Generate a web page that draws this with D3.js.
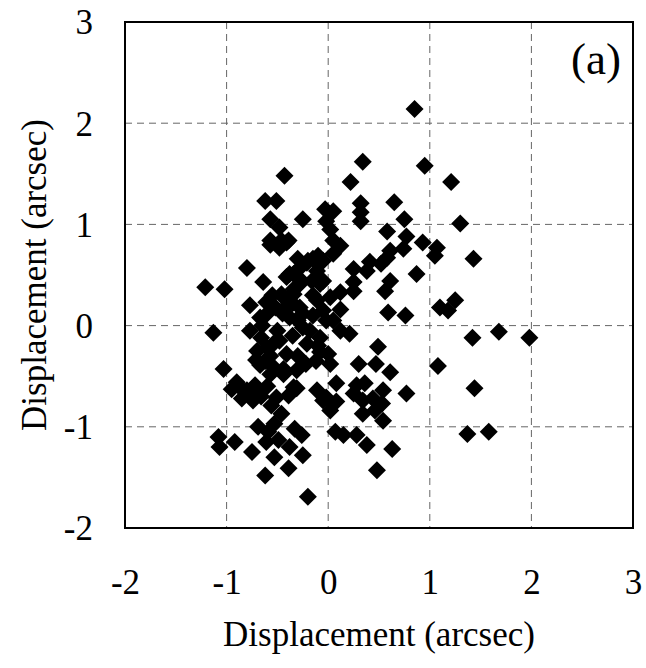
<!DOCTYPE html>
<html>
<head>
<meta charset="utf-8">
<script src="https://cdn.jsdelivr.net/npm/d3@7"></script>
<style>
  body { margin: 0; background: #fff; }
  text { font-family: "Liberation Serif", "Times New Roman", serif; fill: #000; }
</style>
</head>
<body>
<svg width="646" height="668"></svg>
<script>
// displacement values (arcsec)
const dispX = [
  0.85, 0.34, 0.95, 0.22, 1.21, -0.43, 0.65, 0.32, 0.32, 0.32,
  0.75, 1.30, -0.62, -0.51, -0.57, -0.25, -0.48, -0.57, -0.41, -0.03,
  0.05, -0.02, 0.02, 0.05, 0.58, 0.77, 0.93, 1.07, 1.05, 0.61,
  0.74, 0.12, 0.58, 0.41, 0.52, 0.25, 0.38, 0.87, 0.05, -0.05,
  -0.15, -0.21, -0.28, -0.34, -0.11, -0.05, -0.16, -0.28, 0.61, 0.25,
  -0.34, -0.48, -0.39, -0.57, -0.38, -0.20, -0.10, 0.56, 0.12, 0.25,
  0.59, 0.76, 1.10, 1.18, 1.25, 0.12, 0.05, 0.21, 0.12, 0.49,
  0.02, 0.30, 0.47, 1.08, 0.61, 0.08, 0.28, 0.36, 0.54, 0.77,
  -0.02, 0.25, 0.34, 0.44, 0.53, 0.02, 0.34, 0.54, 0.46, 0.07,
  0.15, 0.28, 0.38, 0.63, 0.48, 1.43, 1.42, 1.68, 1.98, 1.44,
  1.37, 1.58, -1.03, -0.90, -0.80, -0.72, -0.74, -0.67, -0.54, -0.44,
  -0.31, -0.34, -0.39, -0.56, -0.46, -0.69, -0.53, -0.59, -0.61, -0.49,
  -0.33, -0.26, -1.08, -1.07, -0.92, -0.75, -0.53, -0.38, -0.25, -0.39,
  -0.62, -0.20, -0.11, -0.05, -0.80, -1.21, -1.02, -0.64, -1.13, -0.46,
  -0.30, -0.77, -0.61, -0.34, -0.46, -0.77, -0.67, -0.61, -0.44, -0.41,
  -0.28, -0.08, -0.11, -0.28, -0.38, -0.25, -0.02, -0.08, -0.21, -0.66,
  -0.54, -0.71, -0.57, -0.41, -0.44, -0.57, -0.08, -0.87, -0.71, -0.51,
  -0.31, -0.15, -0.05, -0.18, -0.10, -0.30, -0.45, -0.50, -0.35, -0.60,
  -0.65, -0.52, -0.40, -0.30, -0.22, 0.02, -0.95, -0.85, 0.08, -0.70,
  -0.62, -0.48, -0.25, -0.15, -0.35, -0.55, -0.12, 0.00, -0.66, -0.60
];
const dispY = [
  2.14, 1.62, 1.58, 1.42, 1.42, 1.48, 1.22, 1.21, 1.12, 1.03,
  1.05, 1.01, 1.23, 1.23, 1.05, 1.05, 0.97, 0.84, 0.82, 1.15,
  1.13, 1.03, 0.95, 0.84, 0.93, 0.88, 0.82, 0.77, 0.69, 0.74,
  0.76, 0.79, 0.67, 0.63, 0.61, 0.56, 0.54, 0.51, 0.71, 0.64,
  0.66, 0.62, 0.57, 0.51, 0.54, 0.44, 0.44, 0.41, 0.44, 0.43,
  0.36, 0.77, 0.84, 0.80, 0.51, 0.64, 0.69, 0.34, 0.33, 0.34,
  0.13, 0.10, 0.18, 0.15, 0.25, 0.16, 0.05, -0.08, -0.05, -0.21,
  -0.38, -0.38, -0.38, -0.40, -0.46, -0.57, -0.59, -0.57, -0.64, -0.67,
  -0.71, -0.67, -0.74, -0.72, -0.77, -0.84, -0.87, -0.94, -0.84, -1.05,
  -1.08, -1.08, -1.18, -1.22, -1.43, 0.66, -0.12, -0.06, -0.12, -0.62,
  -1.07, -1.05, -0.43, -0.56, -0.64, -0.59, -0.74, -0.39, -0.41, -0.43,
  -0.44, -0.61, -0.69, -0.79, -0.87, -1.00, -0.97, -1.05, -1.15, -1.13,
  -1.02, -1.08, -1.10, -1.20, -1.15, -1.25, -1.30, -1.20, -1.28, -1.41,
  -1.48, -1.69, -0.64, -0.74, 0.57, 0.38, 0.36, 0.43, -0.07, 0.84,
  0.66, 0.20, 0.23, 0.31, 0.31, -0.05, 0.08, 0.11, 0.28, 0.48,
  0.46, 0.41, 0.25, 0.18, 0.08, -0.02, 0.05, -0.12, -0.18, -0.12,
  -0.18, -0.34, -0.30, -0.28, -0.48, -0.48, -0.26, -0.61, -0.66, -0.71,
  -0.62, 0.10, 0.15, -0.05, -0.20, 0.05, 0.12, -0.05, -0.10, -0.22,
  0.00, 0.18, 0.20, -0.30, -0.38, 0.28, -0.63, -0.72, -0.75, -0.25,
  -0.35, -0.15, 0.12, 0.30, 0.22, 0.30, -0.35, -0.28, -0.70, -0.60
];
const tickValues = [-2, -1, 0, 1, 2, 3];
const gridValues = [-1, 0, 1, 2];
const axisTitle = "Displacement (arcsec)";
const panelLabel = "(a)";

const svg = d3.select("svg");
const plotLeft = 125, plotRight = 633, plotTop = 22, plotBottom = 528;

const x = d3.scaleLinear().domain([-2, 3]).range([plotLeft, plotRight]);
const y = d3.scaleLinear().domain([-2, 3]).range([plotBottom, plotTop]);

// dashed grid
svg.append("g")
  .selectAll("line")
  .data(gridValues)
  .enter()
  .append("line")
  .attr("x1", (d) => x(d)).attr("x2", (d) => x(d))
  .attr("y1", plotTop).attr("y2", plotBottom)
  .attr("stroke", "#666").attr("stroke-width", 1)
  .attr("stroke-dasharray", "7,5");

svg.append("g")
  .selectAll("line")
  .data(gridValues)
  .enter()
  .append("line")
  .attr("x1", plotLeft).attr("x2", plotRight)
  .attr("y1", (d) => y(d)).attr("y2", (d) => y(d))
  .attr("stroke", "#666").attr("stroke-width", 1)
  .attr("stroke-dasharray", "7,5");

// frame
svg.append("rect")
  .attr("x", plotLeft).attr("y", plotTop)
  .attr("width", plotRight - plotLeft).attr("height", plotBottom - plotTop)
  .attr("fill", "none").attr("stroke", "#000").attr("stroke-width", 2);

// diamond markers
const diamond = "M0,-9L9,0L0,9L-9,0Z";
svg.append("g")
  .selectAll("path")
  .data(dispX.map((v, i) => [v, dispY[i]]))
  .enter()
  .append("path")
  .attr("d", diamond)
  .attr("transform", (d) => `translate(${x(d[0])},${y(d[1])})`)
  .attr("fill", "#000");

// tick labels (plain hyphen for negatives)
const fmt = (d) => String(d);

const xAxis = d3.axisBottom(x).tickValues(tickValues).tickFormat(fmt).tickSize(0).tickPadding(0);
const gx = svg.append("g").attr("transform", `translate(0,${plotBottom})`).call(xAxis);
gx.select(".domain").remove();
gx.selectAll("text")
  .attr("dy", null).attr("y", 66)
  .style("font-family", '"Liberation Serif", serif')
  .style("font-size", "35px").attr("fill", "#000");

const yAxis = d3.axisLeft(y).tickValues(tickValues).tickFormat(fmt).tickSize(0).tickPadding(0);
const gy = svg.append("g").attr("transform", `translate(${plotLeft},0)`).call(yAxis);
gy.select(".domain").remove();
gy.selectAll("text")
  .attr("x", -32).attr("dy", "0.34em")
  .style("font-family", '"Liberation Serif", serif')
  .style("font-size", "35px").attr("fill", "#000");

// titles
svg.append("text")
  .attr("x", 379).attr("y", 646)
  .attr("text-anchor", "middle")
  .style("font-size", "35px")
  .text(axisTitle);

svg.append("text")
  .attr("transform", `translate(46,${(plotTop + plotBottom) / 2}) rotate(-90)`)
  .attr("text-anchor", "middle")
  .style("font-size", "35px")
  .text(axisTitle);

svg.append("text")
  .attr("x", 621).attr("y", 74)
  .attr("text-anchor", "end")
  .style("font-size", "45px")
  .text(panelLabel);
</script>
</body>
</html>
